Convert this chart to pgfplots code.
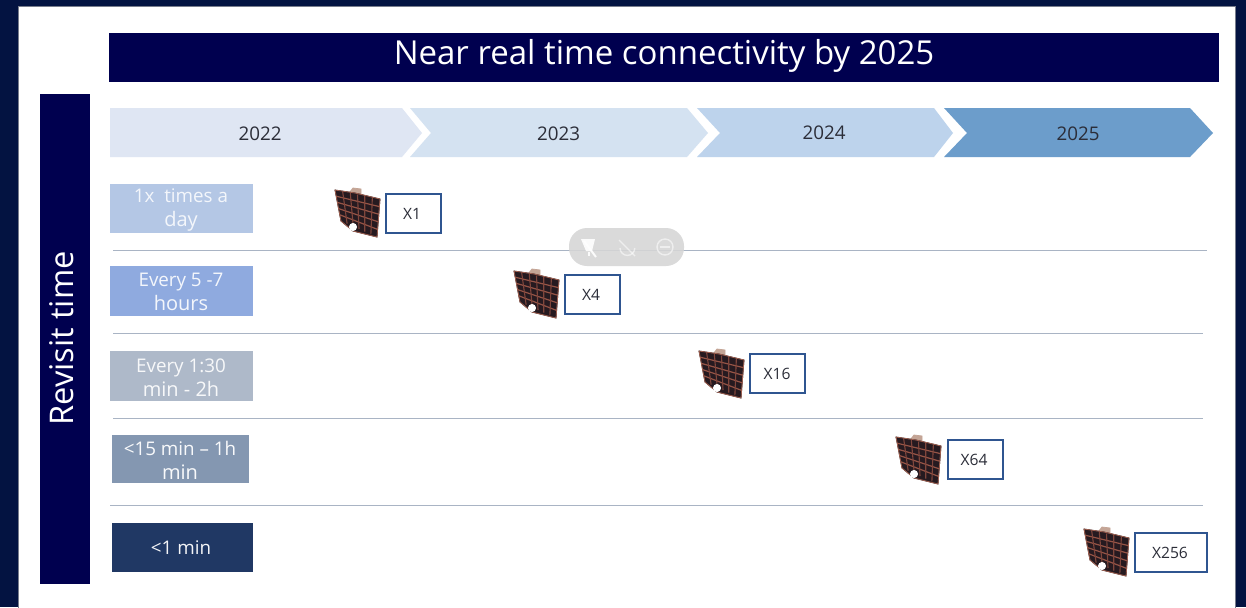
\documentclass[border=0pt]{standalone}
\usepackage{pgfplots}
\pgfplotsset{compat=1.18}
\usepackage{fontspec}
\setmainfont{Open Sans}
\usetikzlibrary{calc}

\definecolor{outer}{HTML}{031341}
\definecolor{banner}{HTML}{00004F}
\definecolor{yearA}{HTML}{DFE6F3}
\definecolor{yearB}{HTML}{D4E2F1}
\definecolor{yearC}{HTML}{BDD3EC}
\definecolor{yearD}{HTML}{6C9DCB}
\definecolor{rowA}{HTML}{B4C7E5}
\definecolor{rowB}{HTML}{8FAADF}
\definecolor{rowC}{HTML}{AEB9C9}
\definecolor{rowD}{HTML}{8497B1}
\definecolor{rowE}{HTML}{203864}
\definecolor{rule}{HTML}{A9B4C4}
\definecolor{frameblue}{HTML}{2F5590}
\definecolor{inktext}{HTML}{2B2D38}

% Folded solar-array satellite, drawn in a 0.5pt grid around its centre
\pgfdeclareplotmark{sat}{%
  \begin{scope}[x=0.5pt,y=0.5pt]
    \coordinate (a) at (-23,22);
    \coordinate (b) at (22,13);
    \coordinate (c) at (19,-25);
    \coordinate (d) at (-17,-9);
    \fill[color={rgb,255:red,196;green,165;blue,150}] (-9,19) -- (-5,24) -- (3,23) -- (3,16) -- cycle;
    \fill[color={rgb,255:red,38;green,26;blue,32}] (a) -- (-3,19) -- (b) -- (c) -- (-5,-19) -- (d) -- cycle;
    \foreach \t in {0.2,0.4,0.6,0.8}{
      \draw[color={rgb,255:red,150;green,84;blue,70},line width=0.6pt] ($(a)!\t!(d)$) -- ($(b)!\t!(c)$);
    }
    \foreach \t in {0.17,0.34,0.5,0.66,0.83}{
      \draw[color={rgb,255:red,128;green,70;blue,60},line width=0.55pt] ($(a)!\t!(b)$) -- ($(d)!\t!(c)$);
    }
    \draw[color={rgb,255:red,160;green,96;blue,80},line width=0.4pt] (a) -- (-3,19) -- (b) -- (c) -- (-5,-19) -- (d) -- cycle;
    \fill[white] (-5,-15) circle (3.6);
  \end{scope}
}

% Filled rectangle in picture coordinates
\newcommand{\rect}[5]{\addplot[fill=#5,draw=none,forget plot] coordinates {(#1,#2) (#3,#2) (#3,#4) (#1,#4)} --cycle;}

\begin{document}
\begin{tikzpicture}
\begin{axis}[
  hide axis, scale only axis, width=623pt, height=303.5pt,
  xmin=0, xmax=1246, ymin=0, ymax=607, y dir=reverse,
  clip=true, axis on top=false,
]
% backdrop and slide
\rect{0}{0}{1246}{607}{outer}
\addplot[fill=white,draw={rgb,255:red,120;green,125;blue,140},line width=0.5pt,forget plot]
  coordinates {(18.5,6.5) (1235.5,6.5) (1235.5,612) (18.5,612)} --cycle;

% banners
\rect{108.5}{33}{1219}{82}{banner}
\rect{40}{93.5}{90}{584}{banner}

% timeline chevrons
\addplot[fill=yearA,draw=none,forget plot] coordinates {(110,108) (402,108) (422,133) (402,157) (110,157)} --cycle;
\addplot[fill=yearB,draw=none,forget plot] coordinates {(410,108) (687,108) (708,133) (687,157) (410,157) (431,133)} --cycle;
\addplot[fill=yearC,draw=none,forget plot] coordinates {(697,108) (934,108) (953,133) (934,157) (697,157) (720,133)} --cycle;
\addplot[fill=yearD,draw=none,forget plot] coordinates {(944,108) (1190,108) (1213,133) (1190,157) (944,157) (967,133)} --cycle;

% revisit-time categories
\rect{110}{183.5}{253}{233}{rowA}
\rect{110}{266}{253}{315.5}{rowB}
\rect{110}{351}{253}{400.5}{rowC}
\rect{112}{434.5}{249}{483}{rowD}
\rect{112}{523}{253}{572}{rowE}

% row separators
\addplot[rule,line width=0.7pt,forget plot] coordinates {(113,250.5) (1207,250.5)};
\addplot[rule,line width=0.7pt,forget plot] coordinates {(113,333.5) (1203,333.5)};
\addplot[rule,line width=0.7pt,forget plot] coordinates {(113,418.5) (1203,418.5)};
\addplot[rule,line width=0.7pt,forget plot] coordinates {(110,505.5) (1203,505.5)};

% capacity multiplier boxes
\addplot[fill=white,draw=frameblue,line width=1pt,forget plot] coordinates {(385.5,193.5) (441,193.5) (441,233) (385.5,233)} --cycle;
\addplot[fill=white,draw=frameblue,line width=1pt,forget plot] coordinates {(564.5,274.5) (620,274.5) (620,314) (564.5,314)} --cycle;
\addplot[fill=white,draw=frameblue,line width=1pt,forget plot] coordinates {(749.5,353.5) (805,353.5) (805,393) (749.5,393)} --cycle;
\addplot[fill=white,draw=frameblue,line width=1pt,forget plot] coordinates {(947.5,439.5) (1003,439.5) (1003,479) (947.5,479)} --cycle;
\addplot[fill=white,draw=frameblue,line width=1pt,forget plot] coordinates {(1134.5,532.5) (1207,532.5) (1207,572) (1134.5,572)} --cycle;

% satellites
\addplot[only marks,mark=sat,forget plot] coordinates {(358,212) (537,293) (722,373) (919,459) (1107,551)};

% muted call-controls pill
\fill[color={rgb,255:red,214;green,214;blue,214},opacity=0.88,rounded corners=9pt]
  (axis cs:569,228) rectangle (axis cs:684,266);
\begin{scope}[white,line width=0.7pt]
  \fill[opacity=0.9] (axis cs:581,239) -- (axis cs:595,239) -- (axis cs:592,251) -- (axis cs:586,251) -- cycle;
  \draw[opacity=0.9,line width=1pt] (axis cs:584,241) -- (axis cs:596,257);
  \draw[opacity=0.9,line width=1pt] (axis cs:589,252) -- (axis cs:589,256);
  \draw[opacity=0.55] (axis cs:619,240) -- (axis cs:635,256);
  \draw[opacity=0.55] (axis cs:620,248) arc[start angle=180,end angle=360,radius=3.7pt];
  \draw[opacity=0.55] (axis cs:665,247) circle (4pt);
  \draw[opacity=0.55] (axis cs:660,247) -- (axis cs:670,247);
\end{scope}

% wording
\node[white] at (axis cs:664,55.5) {\fontsize{16.5}{20}\selectfont Near real time connectivity by 2025};
\node[white,rotate=90] at (axis cs:62,338.5) {\fontsize{16.3}{20}\selectfont Revisit time};

\node[inktext] at (axis cs:260,133.5) {\fontsize{9.4}{12}\selectfont 2022};
\node[inktext] at (axis cs:558.5,133.5) {\fontsize{9.4}{12}\selectfont 2023};
\node[inktext] at (axis cs:824,132.5) {\fontsize{9.4}{12}\selectfont 2024};
\node[inktext] at (axis cs:1078,133.5) {\fontsize{9.4}{12}\selectfont 2025};

\node[white,opacity=0.85,align=center] at (axis cs:181,209.5) {\fontsize{9.4}{12}\selectfont 1x\ \ times a\\day};
\node[white,opacity=0.9,align=center] at (axis cs:181,292) {\fontsize{9.4}{12}\selectfont Every 5 -7\\hours};
\node[white,opacity=0.9,align=center] at (axis cs:181,377.5) {\fontsize{9.4}{12}\selectfont Every 1:30\\min - 2h};
\node[white,opacity=0.95,align=center] at (axis cs:180,460) {\fontsize{9.4}{12}\selectfont <15 min – 1h\\min};
\node[white,opacity=0.95] at (axis cs:181,548) {\fontsize{9.4}{12}\selectfont <1 min};

\node[inktext] at (axis cs:412,213.5) {\fontsize{7.8}{10}\selectfont X1};
\node[inktext] at (axis cs:591,294.5) {\fontsize{7.8}{10}\selectfont X4};
\node[inktext] at (axis cs:777,373.5) {\fontsize{7.8}{10}\selectfont X16};
\node[inktext] at (axis cs:974,459.5) {\fontsize{7.8}{10}\selectfont X64};
\node[inktext] at (axis cs:1170,552.5) {\fontsize{7.8}{10}\selectfont X256};
\end{axis}
\end{tikzpicture}
\end{document}
